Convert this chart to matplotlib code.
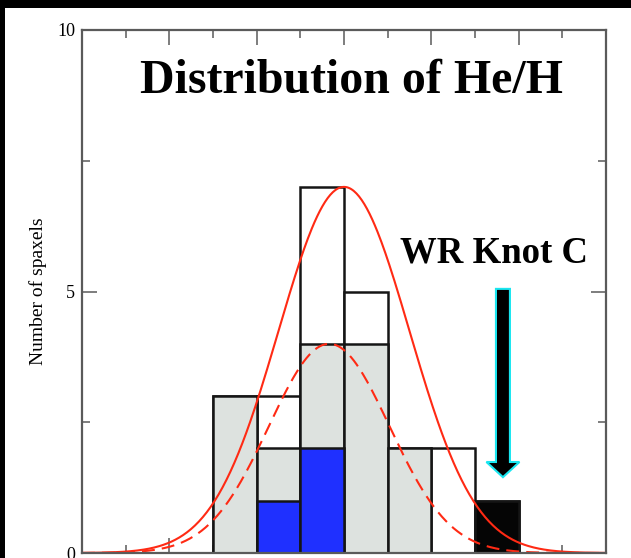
import numpy as np
import matplotlib
matplotlib.use("Agg")
import matplotlib.pyplot as plt
from matplotlib.patches import FancyArrow, Rectangle
from matplotlib.ticker import MultipleLocator, NullFormatter

# ---- data ----
bin_left = [1.5, 2.0, 2.5, 3.0, 3.5, 4.0, 4.5]
bin_width = 0.5
total_counts = [3, 3, 7, 5, 2, 2, 1]
gray_counts = [3, 2, 4, 4, 2, 0, 0]
blue_counts = [0, 1, 2, 0, 0, 0, 0]
wr_counts = [0, 0, 0, 0, 0, 0, 1]

fit_all = dict(amp=7.0, mu=3.0, sigma=0.75)
fit_sub = dict(amp=4.0, mu=2.83, sigma=0.69)

x_range = (0.0, 6.0)
y_range = (0.0, 10.0)
y_major = [0, 5, 10]
y_labels = ["0", "5", "10"]

title = "Distribution of He/H"
ylabel = "Number of spaxels"
wr_label = "WR Knot C"

serif = ["Liberation Serif", "DejaVu Serif"]

fig = plt.figure(figsize=(6.31, 5.58), dpi=100, facecolor="black")
# white panel (image is framed in black at top/left)
fig.patches.append(Rectangle((5 / 631, 0), 1, 1 - 8 / 558, transform=fig.transFigure,
                             facecolor="white", edgecolor="none", zorder=-10))

ax = fig.add_axes([82 / 631, 5 / 558, 524 / 631, 523 / 558])
ax.set_facecolor("white")
ax.set_xlim(*x_range)
ax.set_ylim(*y_range)

edge = "#151515"
lw_bar = 1.8
ax.bar(bin_left, total_counts, width=bin_width, align="edge", color="white",
       edgecolor=edge, linewidth=lw_bar, zorder=2)
ax.bar(bin_left, gray_counts, width=bin_width, align="edge", color="#dde2df",
       edgecolor=edge, linewidth=lw_bar, zorder=3)
ax.bar(bin_left, blue_counts, width=bin_width, align="edge", color="#1f30ff",
       edgecolor=edge, linewidth=lw_bar, zorder=4)
ax.bar(bin_left, wr_counts, width=bin_width, align="edge", color="#050505",
       edgecolor=edge, linewidth=lw_bar, zorder=5)

xs = np.linspace(x_range[0], x_range[1], 400)
def gauss(x, amp, mu, sigma):
    return amp * np.exp(-0.5 * ((x - mu) / sigma) ** 2)

ax.plot(xs, gauss(xs, **fit_all), color="#ff2a14", lw=1.5, zorder=6)
ax.plot(xs, gauss(xs, **fit_sub), color="#ff2a14", lw=1.5, ls=(0, (6.2, 3.4)), zorder=6)

# ticks
spine_c = "#5a5a5a"
for s in ax.spines.values():
    s.set_color(spine_c)
    s.set_linewidth(1.6)
    s.set_zorder(7)
ax.set_yticks(y_major)
ax.set_yticklabels(y_labels)
ax.yaxis.set_minor_locator(MultipleLocator(2.5))
ax.xaxis.set_major_locator(MultipleLocator(1.0))
ax.xaxis.set_minor_locator(MultipleLocator(0.5))
ax.xaxis.set_major_formatter(NullFormatter())
ax.tick_params(which="both", direction="in", top=True, right=True, color=spine_c, width=1.1)
ax.tick_params(which="major", length=10.8)
ax.tick_params(which="minor", length=5.8)
ax.tick_params(axis="y", labelsize=13, pad=5)
for lab in ax.get_yticklabels():
    lab.set_fontfamily(serif)

ax.set_ylabel(ylabel, fontfamily=serif, fontsize=14, labelpad=7)

ax.text(3.09, 8.795, title, fontfamily=serif, fontweight="bold", fontsize=34.5,
        ha="center", va="baseline", zorder=8)
ax.text(4.72, 5.545, wr_label, fontfamily=serif, fontweight="bold", fontsize=26.5,
        ha="center", va="baseline", zorder=8)

arrow_x = 4.82
arrow_top = 5.05
arrow_tip = 1.45
ax.add_patch(FancyArrow(arrow_x, arrow_top, 0, arrow_tip - arrow_top, width=0.16,
                        head_width=0.378, head_length=0.29, length_includes_head=True,
                        facecolor="black", edgecolor="#19e6f0", linewidth=1.5, zorder=9))

fig.savefig("out.png", dpi=100, facecolor=fig.get_facecolor())
